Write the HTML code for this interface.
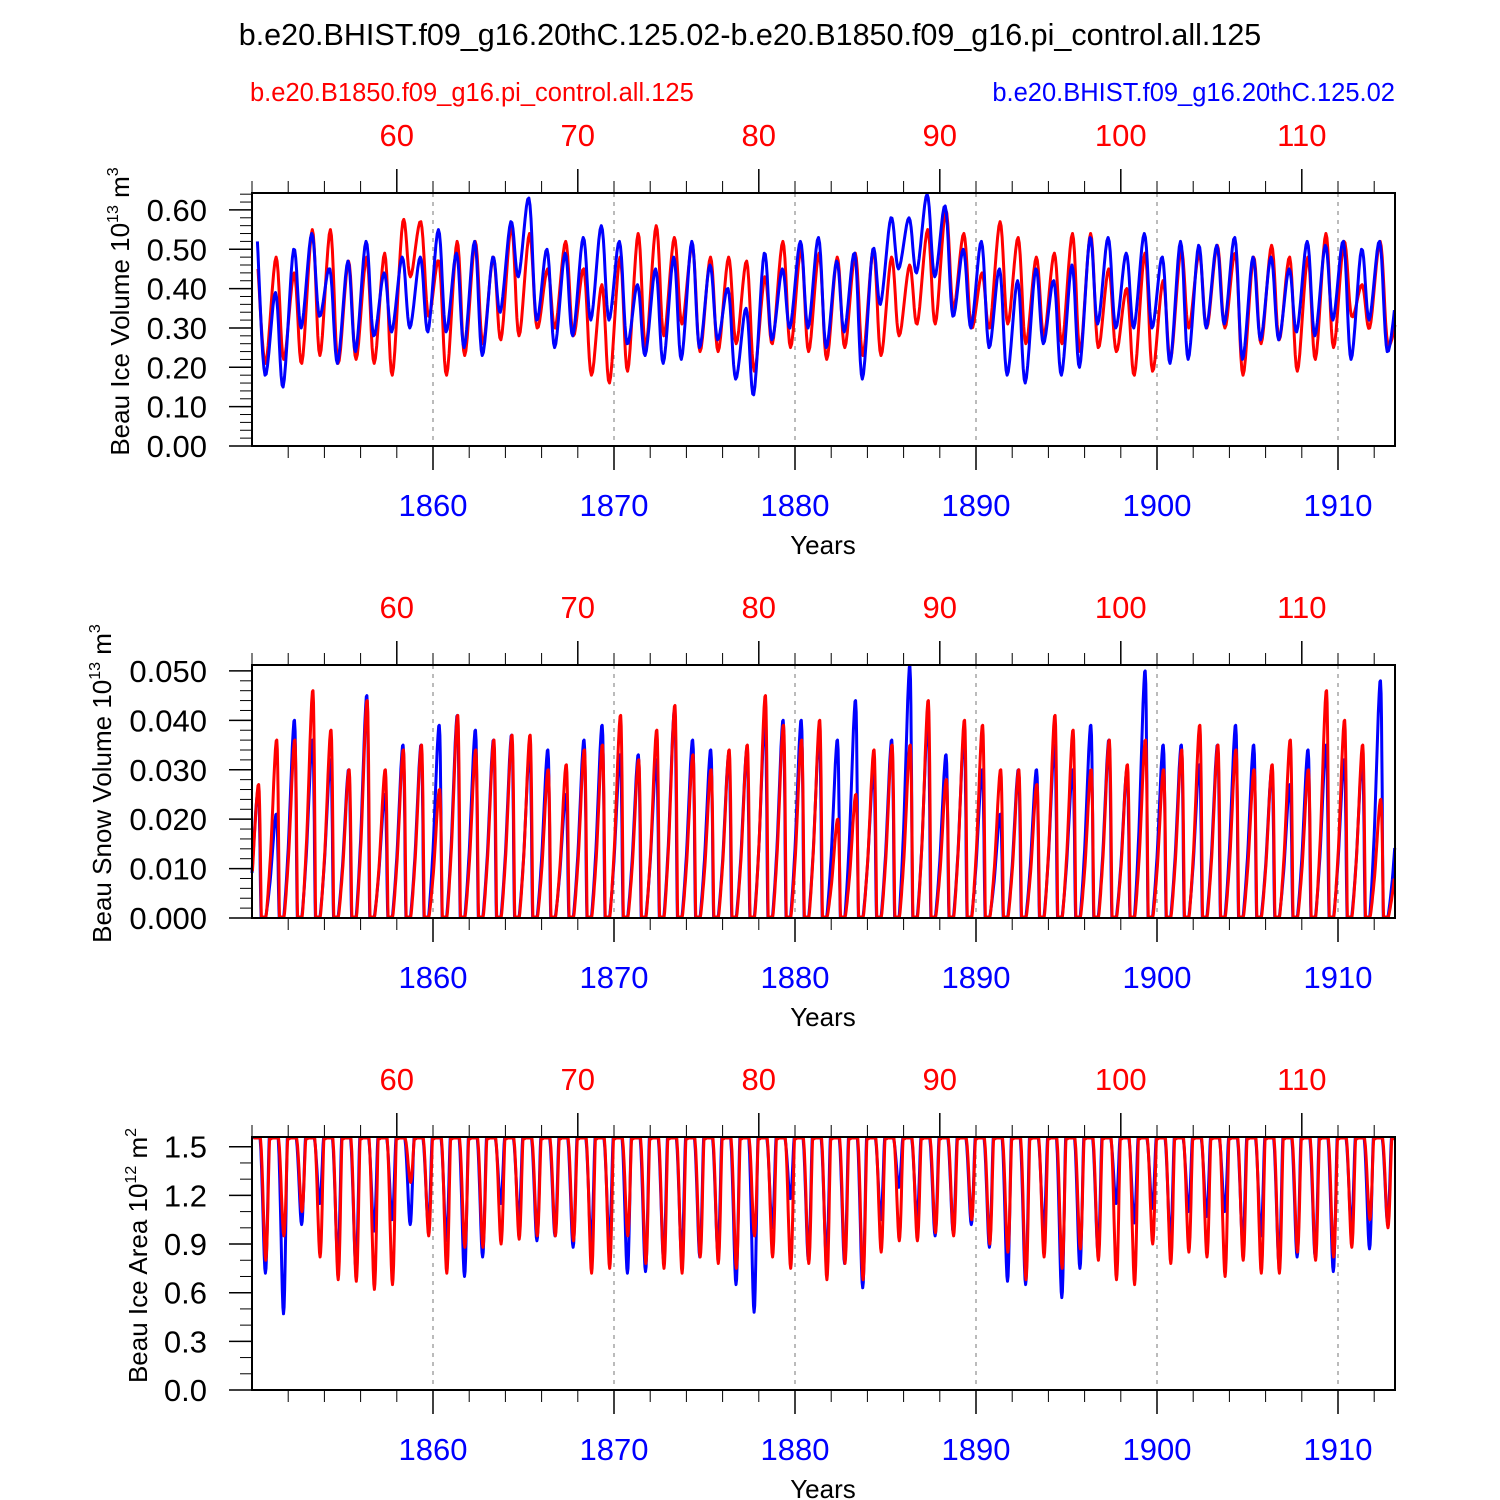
<!DOCTYPE html>
<html><head><meta charset="utf-8"><style>
html,body{margin:0;padding:0;background:#fff;}
svg{display:block;font-family:"Liberation Sans",sans-serif;}
</style></head><body>
<svg id="chart" width="1500" height="1500" viewBox="0 0 1500 1500">
<text x="750" y="45" font-size="30.5" text-anchor="middle">b.e20.BHIST.f09_g16.20thC.125.02-b.e20.B1850.f09_g16.pi_control.all.125</text>
<text x="250" y="101" font-size="25.5" fill="#ff0000">b.e20.B1850.f09_g16.pi_control.all.125</text>
<text x="1395" y="101" font-size="25.5" fill="#0000ff" text-anchor="end">b.e20.BHIST.f09_g16.20thC.125.02</text>
</svg>
<script>
// ---- data (per-year peak / trough, years starting 1850) ----
const startYear = 1850;
const volBluePeak = [0.52,0.39,0.50,0.54,0.45,0.47,0.52,0.44,0.48,0.48,0.55,0.49,0.52,0.48,0.57,0.63,0.50,0.49,0.53,0.56,0.52,0.41,0.45,0.48,0.52,0.46,0.40,0.35,0.49,0.45,0.52,0.53,0.47,0.49,0.50,0.58,0.58,0.64,0.61,0.50,0.52,0.45,0.42,0.45,0.42,0.46,0.53,0.53,0.49,0.54,0.48,0.52,0.51,0.51,0.53,0.48,0.48,0.45,0.52,0.51,0.52,0.50,0.52,0.42];
const volBlueTrough = [0.18,0.15,0.30,0.33,0.21,0.24,0.28,0.29,0.30,0.29,0.29,0.25,0.23,0.34,0.43,0.32,0.25,0.28,0.32,0.32,0.26,0.23,0.21,0.22,0.25,0.27,0.17,0.13,0.27,0.30,0.30,0.25,0.29,0.17,0.36,0.45,0.44,0.43,0.33,0.30,0.25,0.18,0.16,0.26,0.18,0.20,0.31,0.30,0.30,0.30,0.21,0.22,0.30,0.31,0.22,0.27,0.27,0.29,0.28,0.32,0.22,0.32,0.24,0.35];
const volRedPeak = [0.45,0.48,0.44,0.55,0.55,0.47,0.48,0.49,0.57,0.57,0.47,0.52,0.52,0.48,0.56,0.54,0.45,0.52,0.45,0.41,0.48,0.54,0.56,0.53,0.51,0.48,0.48,0.47,0.43,0.52,0.50,0.49,0.48,0.49,0.50,0.48,0.46,0.55,0.60,0.54,0.44,0.57,0.53,0.48,0.49,0.54,0.54,0.45,0.40,0.49,0.42,0.50,0.49,0.51,0.49,0.48,0.51,0.48,0.48,0.54,0.52,0.41,0.52,0.35];
const volRedTrough = [0.21,0.22,0.21,0.23,0.21,0.22,0.21,0.18,0.43,0.33,0.18,0.23,0.26,0.27,0.28,0.30,0.30,0.28,0.18,0.16,0.19,0.25,0.28,0.31,0.24,0.24,0.26,0.19,0.26,0.25,0.24,0.22,0.25,0.23,0.23,0.28,0.31,0.31,0.35,0.30,0.30,0.31,0.26,0.28,0.26,0.24,0.25,0.24,0.18,0.19,0.22,0.30,0.30,0.30,0.18,0.26,0.27,0.19,0.22,0.25,0.33,0.30,0.26,0.30];
const snowBluePeak = [0.026,0.021,0.040,0.036,0.032,0.030,0.045,0.025,0.035,0.035,0.039,0.041,0.038,0.036,0.037,0.034,0.034,0.025,0.036,0.039,0.033,0.033,0.032,0.042,0.036,0.034,0.033,0.034,0.040,0.040,0.040,0.037,0.036,0.044,0.030,0.036,0.051,0.040,0.033,0.037,0.030,0.021,0.030,0.030,0.035,0.030,0.039,0.036,0.030,0.050,0.035,0.035,0.031,0.035,0.039,0.035,0.030,0.027,0.034,0.035,0.032,0.032,0.048,0.022];
const snowRedPeak = [0.027,0.036,0.036,0.046,0.038,0.030,0.044,0.030,0.034,0.035,0.026,0.041,0.034,0.036,0.037,0.037,0.030,0.031,0.034,0.035,0.041,0.032,0.038,0.043,0.033,0.030,0.034,0.035,0.045,0.039,0.036,0.040,0.020,0.025,0.034,0.035,0.035,0.044,0.028,0.040,0.039,0.030,0.030,0.027,0.041,0.038,0.030,0.036,0.031,0.036,0.030,0.034,0.039,0.035,0.034,0.030,0.031,0.036,0.030,0.046,0.040,0.035,0.024,0.015];
const snowTrough = 0.0;
const areaPeak = 1.55;
const areaBlueTrough = [0.72,0.47,1.02,1.15,0.80,0.75,0.98,1.05,1.02,1.02,0.92,0.70,0.82,1.15,1.05,0.92,0.95,0.88,0.90,0.92,0.72,0.73,0.80,0.82,0.82,0.85,0.65,0.48,1.00,1.18,0.80,0.80,0.78,0.63,1.05,1.25,1.05,0.95,0.97,1.02,0.88,0.67,0.65,0.98,0.57,0.75,0.85,1.15,1.03,1.12,0.92,1.10,1.07,1.10,0.90,0.95,0.78,0.82,0.82,0.73,1.00,0.87,1.03,1.10];
const areaRedTrough = [0.80,0.95,1.10,0.82,0.68,0.67,0.62,0.65,1.28,0.95,0.72,0.88,0.88,0.90,0.93,0.95,0.95,0.92,0.72,0.75,0.95,0.78,0.75,0.72,0.82,0.78,0.75,0.95,0.82,0.75,0.78,0.68,0.78,0.68,0.85,0.92,0.92,0.97,0.95,1.05,0.90,0.85,0.68,0.82,0.75,0.87,0.80,0.68,0.65,0.90,0.78,0.85,0.82,0.70,0.80,0.72,0.72,0.85,0.80,0.82,0.88,1.05,1.00,1.05];
const blueTicks = [1860,1870,1880,1890,1900,1910];
const redTicks = [60,70,80,90,100,110];
const redOffset = 1798;
const volTicks = ["0.00","0.10","0.20","0.30","0.40","0.50","0.60"];
const snowTicks = ["0.000","0.010","0.020","0.030","0.040","0.050"];
const areaTicks = ["0.0","0.3","0.6","0.9","1.2","1.5"];

const NS="http://www.w3.org/2000/svg";
const svg=document.getElementById('chart');
const X0=252,X1=1395,Y0=1850,Y1=1850+(1395-252)/18.1;
function xs(y){return X0+(y-Y0)/(Y1-Y0)*(X1-X0);}
function mk(tag,attrs,parent){const e=document.createElementNS(NS,tag);for(const k in attrs)e.setAttribute(k,attrs[k]);(parent||svg).appendChild(e);return e;}

function smooth(pts,top,bot){
  // Catmull-Rom sampled, clamped to plot
  const out=[];
  for(let i=0;i<pts.length-1;i++){
    const p0=pts[Math.max(0,i-1)],p1=pts[i],p2=pts[i+1],p3=pts[Math.min(pts.length-1,i+2)];
    for(let k=0;k<8;k++){const t=k/8,t2=t*t,t3=t2*t;
      const f=(a,b,c,d)=>0.5*((2*b)+(-a+c)*t+(2*a-5*b+4*c-d)*t2+(-a+3*b-3*c+d)*t3);
      out.push([f(p0[0],p1[0],p2[0],p3[0]),Math.min(bot,Math.max(top,f(p0[1],p1[1],p2[1],p3[1])))]);}
  }
  out.push(pts[pts.length-1]);
  return out;
}

function panel(top,ymax,ticks,minorStep,label,exp,unit,series,key){
  const bot=top+253;
  const g=mk('g',{});
  
  
  const ys=v=>bot-v/ymax*(bot-top);
  blueTicks.forEach(t=>{const l=mk('line',{x1:xs(t),x2:xs(t),y1:top,y2:bot,stroke:'#777','stroke-width':1,'stroke-dasharray':'4,5'},g);
    });
  series.forEach(s=>{
    const pts=[];
    for(let i=0;i<s.n;i++){s.pts(i).forEach(p=>{const yr=startYear+i+p[0];if(yr<=Y1+0.5)pts.push([xs(yr),ys(p[1])]);});}
    const sm=smooth(pts,top+1,bot-1).filter(p=>p[0]>=X0&&p[0]<=X1);
    let d='';sm.forEach((p,i)=>{d+=(i?'L':'M')+p[0].toFixed(1)+','+p[1].toFixed(1);});
    const path=mk('path',{d:d,fill:'none',stroke:s.color,'stroke-width':3,'stroke-linejoin':'round'},g);
    
    
  });
  mk('rect',{x:X0,y:top,width:X1-X0,height:bot-top,fill:'none',stroke:'#000','stroke-width':2},g);
  for(let v=0;v<=ymax+1e-9;v+=minorStep){mk('line',{x1:X0-12,x2:X0,y1:ys(v),y2:ys(v),stroke:'#000','stroke-width':1},g);}
  ticks.forEach(t=>{const v=parseFloat(t);mk('line',{x1:X0-23,x2:X0,y1:ys(v),y2:ys(v),stroke:'#000','stroke-width':1.5},g);
    const tx=mk('text',{x:X0-45,y:ys(v)+11,'font-size':31,'text-anchor':'end'},g);tx.textContent=t;
    });
  for(let y=1852;y<=1913;y+=2){const big=blueTicks.includes(y);mk('line',{x1:xs(y),x2:xs(y),y1:bot,y2:bot+(big?24:12),stroke:'#000','stroke-width':big?1.5:1},g);}
  blueTicks.forEach(t=>{const tx=mk('text',{x:xs(t),y:bot+70,'font-size':31,'text-anchor':'middle',fill:'#0000ff'},g);tx.textContent=t;
    });
  const xt=mk('text',{x:823,y:bot+108,'font-size':26,'text-anchor':'middle'},g);xt.textContent='Years';
  
  for(let r=52;r<=115;r+=2){const y=r+redOffset;if(y>Y1)break;const big=redTicks.includes(r);mk('line',{x1:xs(y),x2:xs(y),y1:top,y2:top-(big?24:12),stroke:'#000','stroke-width':big?1.5:1},g);}
  redTicks.forEach(t=>{const tx=mk('text',{x:xs(t+redOffset),y:top-47,'font-size':31,'text-anchor':'middle',fill:'#ff0000'},g);tx.textContent=t;
    });
  const cy=(top+bot)/2-8;
  const yt=mk('text',{x:0,y:0,'font-size':26,'text-anchor':'middle',transform:'translate('+(key==='area'?147:(key==='snow'?111:129))+','+cy+') rotate(-90)'},g);
  
  yt.innerHTML=label+' 10<tspan font-size="16" dy="-11">'+exp+'</tspan><tspan dy="11"> '+unit.m+'</tspan><tspan font-size="16" dy="-11">'+unit.e+'</tspan>';
}

panel(193,0.643,volTicks,0.02,'Beau Ice Volume','13',{m:'m',e:'3'},[
 {name:'red-ice-volume-line',color:'#ff0000',n:volRedPeak.length,pts:i=>[[0.33,volRedPeak[i]],[0.75,volRedTrough[i]]]},
 {name:'blue-ice-volume-line',color:'#0000ff',n:volBluePeak.length,pts:i=>[[0.3,volBluePeak[i]],[0.72,volBlueTrough[i]]]}
],'vol');
panel(665,0.0512,snowTicks,0.002,'Beau Snow Volume','13',{m:'m',e:'3'},[
 {name:'blue-snow-volume-line',color:'#0000ff',n:snowBluePeak.length,pts:i=>[[0.0,snowBluePeak[i]*0.35],[0.35,snowBluePeak[i]],[0.5,snowTrough],[0.62,snowTrough],[0.75,snowTrough]]},
 {name:'red-snow-volume-line',color:'#ff0000',n:snowRedPeak.length,pts:i=>[[0.02,snowRedPeak[i]*0.35],[0.37,snowRedPeak[i]],[0.52,snowTrough],[0.64,snowTrough],[0.77,snowTrough]]}
],'snow');
panel(1137,1.56,areaTicks,0.1,'Beau Ice Area','12',{m:'m',e:'2'},[
 {name:'blue-ice-area-line',color:'#0000ff',n:areaBlueTrough.length,pts:i=>[[0.05,areaPeak],[0.45,areaPeak],[0.74,areaBlueTrough[i]],[0.95,areaPeak]]},
 {name:'red-ice-area-line',color:'#ff0000',n:areaRedTrough.length,pts:i=>[[0.07,areaPeak],[0.47,areaPeak],[0.76,areaRedTrough[i]],[0.97,areaPeak]]}
],'area');
</script>
</body></html>
